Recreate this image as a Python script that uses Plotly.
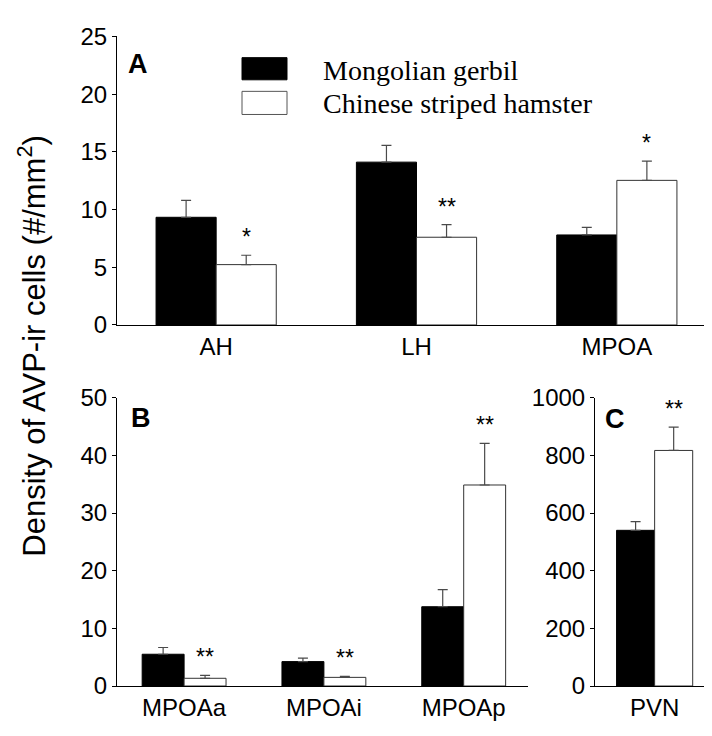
import plotly.graph_objects as go

# Panel A
cats_a = ["AH", "LH", "MPOA"]
gerbil_a = [9.33, 14.11, 7.8]
gerbil_a_err = [1.47, 1.45, 0.66]
hamster_a = [5.23, 7.6, 12.53]
hamster_a_err = [0.81, 1.09, 1.67]
stars_a = ["*", "**", "*"]

# Panel B
cats_b = ["MPOAa", "MPOAi", "MPOAp"]
gerbil_b = [5.51, 4.23, 13.75]
gerbil_b_err = [1.17, 0.61, 2.95]
hamster_b = [1.34, 1.5, 34.86]
hamster_b_err = [0.5, 0.17, 7.23]
stars_b = ["**", "**", "**"]

# Panel C
cats_c = ["PVN"]
gerbil_c = [540]
gerbil_c_err = [30]
hamster_c = [817]
hamster_c_err = [81]
stars_c = ["**"]

series_names = ["Mongolian gerbil", "Chinese striped hamster"]

TICKFONT = dict(family="Liberation Sans, Arial", size=24, color="black")
ERRCOLOR = "#4a4a4a"

fig = go.Figure()

panels = [
    (cats_a, gerbil_a, gerbil_a_err, hamster_a, hamster_a_err, stars_a, "x", "y"),
    (cats_b, gerbil_b, gerbil_b_err, hamster_b, hamster_b_err, stars_b, "x2", "y2"),
    (cats_c, gerbil_c, gerbil_c_err, hamster_c, hamster_c_err, stars_c, "x3", "y3"),
]

for i, (cats, g, ge, h, he, st, xa, ya) in enumerate(panels):
    fig.add_trace(go.Bar(
        x=cats, y=g, name=series_names[0], xaxis=xa, yaxis=ya,
        marker=dict(color="black", line=dict(color="black", width=1)),
        error_y=dict(type="data", array=ge, symmetric=False, arrayminus=[0] * len(ge),
                     color=ERRCOLOR, thickness=1.2, width=5),
        showlegend=False, offsetgroup="g",
    ))
    fig.add_trace(go.Bar(
        x=cats, y=h, name=series_names[1], xaxis=xa, yaxis=ya,
        marker=dict(color="white", line=dict(color="#333333", width=1)),
        error_y=dict(type="data", array=he, symmetric=False, arrayminus=[0] * len(he),
                     color=ERRCOLOR, thickness=1.2, width=5),
        showlegend=False, offsetgroup="h",
    ))
    for j, s in enumerate(st):
        fig.add_annotation(
            x=j + 0.15, y=h[j] + he[j], xref=xa, yref=ya, text=s,
            showarrow=False, yanchor="bottom", yshift=3,
            font=dict(family="Liberation Sans, Arial", size=23, color="black"),
        )

W, H = 712, 736
def px_x(a, b):
    return [a / W, b / W]
def px_y(top, bot):
    return [1 - bot / H, 1 - top / H]

common_x = dict(showline=True, linecolor="black", linewidth=1, ticks="",
                tickfont=TICKFONT, showgrid=False, zeroline=False, type="category")
common_y = dict(showline=True, linecolor="black", linewidth=1, ticks="outside",
                ticklen=4, tickcolor="black", tickfont=TICKFONT, showgrid=False,
                zeroline=False)

fig.update_layout(
    width=W, height=H,
    margin=dict(l=0, r=0, t=0, b=0),
    paper_bgcolor="white", plot_bgcolor="white",
    barmode="group", bargap=0.4, bargroupgap=0,
    xaxis=dict(domain=px_x(109, 712), range=[-0.495, 2.515], anchor="y", **common_x),
    yaxis=dict(domain=px_y(15, 314.5), range=[0, 25], tickvals=[0, 5, 10, 15, 20, 25],
               anchor="x", **common_y),
    xaxis2=dict(domain=px_x(109, 520), range=[-0.48, 2.46], anchor="y2", **common_x),
    yaxis2=dict(domain=px_y(390, 689.3), range=[0, 50], tickvals=[0, 10, 20, 30, 40, 50],
                anchor="x2", **common_y),
    xaxis3=dict(domain=px_x(587, 705), range=[-0.47, 0.46], anchor="y3", **common_x),
    yaxis3=dict(domain=px_y(390, 689.3), range=[0, 1000],
                tickvals=[0, 200, 400, 600, 800, 1000], anchor="x3", **common_y),
    showlegend=False,
)

# Panel letters
for letter, xp, yp in [("A", 118, 26), ("B", 121, 393), ("C", 595, 394)]:
    fig.add_annotation(x=xp / W, y=1 - yp / H, xref="paper", yref="paper",
                       text="<b>%s</b>" % letter, showarrow=False,
                       xanchor="left", yanchor="top",
                       font=dict(family="Liberation Sans, Arial", size=27, color="black"))

# Legend (drawn manually)
fig.add_shape(type="rect", xref="paper", yref="paper",
              x0=234 / W, x1=279 / W, y0=1 - 60 / H, y1=1 - 37 / H,
              fillcolor="black", line=dict(color="black", width=1))
fig.add_shape(type="rect", xref="paper", yref="paper",
              x0=234 / W, x1=279 / W, y0=1 - 96 / H, y1=1 - 72 / H,
              fillcolor="white", line=dict(color="#555555", width=1))
for name, yc in [(series_names[0], 50), (series_names[1], 85)]:
    fig.add_annotation(x=313 / W, y=1 - yc / H, xref="paper", yref="paper",
                       text=name, showarrow=False, xanchor="left", yanchor="middle",
                       font=dict(family="Liberation Serif, Times New Roman", size=28,
                                 color="black"))

# Shared y-axis title
fig.add_annotation(x=24 / W, y=1 - 337 / H, xref="paper", yref="paper",
                   text="Density of AVP-ir cells (#/mm<sup>2</sup>)", textangle=-90,
                   showarrow=False, xanchor="center", yanchor="middle",
                   font=dict(family="Liberation Sans, Arial", size=31, color="black"))

fig.write_html("out.html")
